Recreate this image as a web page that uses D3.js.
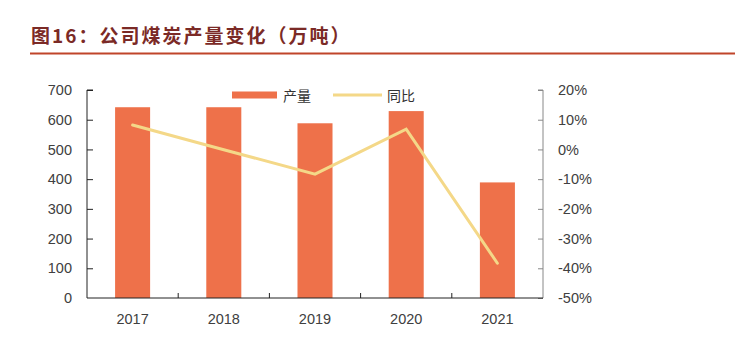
<!DOCTYPE html>
<html>
<head>
<meta charset="utf-8">
<script src="https://cdn.jsdelivr.net/npm/d3@7"></script>
<style>
  body { margin: 0; background: #fff; }
  svg text { font-family: "Liberation Sans", Arial, sans-serif; }
</style>
</head>
<body>
<svg id="chart" width="735" height="354"></svg>
<script>
var years = ['2017', '2018', '2019', '2020', '2021'];
var output = [642, 642, 588, 629, 389];          // 产量 (万吨)
var yoy = [8.2, -0.1, -8.3, 6.8, -38.3];          // 同比 (%)
var leftTicks = [0, 100, 200, 300, 400, 500, 600, 700];
var rightTicks = [-50, -40, -30, -20, -10, 0, 10, 20];

var svg = d3.select('#chart');
var plotLeft = 87, plotRight = 543, plotTop = 90, plotBottom = 298;

// title
svg.append('text')
    .attr('x', 31).attr('y', 43)
    .attr('fill', '#7b2a26')
    .style('font-family', '"Noto Sans CJK SC", sans-serif')
    .style('font-weight', 'bold')
    .style('font-size', '19px')
    .style('letter-spacing', '2px')
    .text('图16：公司煤炭产量变化（万吨）');
svg.append('line')
    .attr('x1', 30).attr('x2', 735).attr('y1', 53.5).attr('y2', 53.5)
    .attr('stroke', '#c0452a').attr('stroke-width', 2);

var x = d3.scaleBand().domain(years).range([plotLeft, plotRight])
    .paddingInner(0.616).paddingOuter(0.308);
var y = d3.scaleLinear().domain([0, 700]).range([plotBottom, plotTop]);
var y2 = d3.scaleLinear().domain([-50, 20]).range([plotBottom, plotTop]);

// bars
svg.selectAll('.bar')
    .data(output)
    .enter().append('rect')
    .attr('class', 'bar')
    .attr('x', function(d, i) { return x(years[i]); })
    .attr('y', function(d) { return y(d); })
    .attr('width', x.bandwidth())
    .attr('height', function(d) { return y(0) - y(d); })
    .attr('fill', '#ee714a');

// left axis
var gl = svg.append('g').attr('transform', 'translate(' + plotLeft + ',0)')
    .call(d3.axisLeft(y).tickValues(leftTicks).tickSize(-6).tickPadding(15));
gl.select('.domain').attr('stroke', '#222').attr('d', 'M6,' + plotTop + 'H0V' + plotBottom);
gl.selectAll('.tick line').attr('stroke', '#222');
gl.selectAll('.tick text').attr('fill', '#404040').style('font-size', '14.5px');
gl.selectAll('.tick').filter(function(d) { return d === 0; }).select('line').remove();

// right axis
var gr = svg.append('g').attr('transform', 'translate(' + plotRight + ',0)')
    .call(d3.axisRight(y2).tickValues(rightTicks).tickSize(-5).tickPadding(20)
        .tickFormat(function(d) { return d + '%'; }));
gr.select('.domain').attr('stroke', '#888').attr('d', 'M-5,' + plotTop + 'H0V' + plotBottom);
gr.selectAll('.tick line').attr('stroke', '#888');
gr.selectAll('.tick text').attr('fill', '#404040').style('font-size', '14.5px')
    .attr('text-anchor', 'start').attr('x', 15);

// bottom axis
var gb = svg.append('g').attr('transform', 'translate(0,' + plotBottom + ')');
gb.append('line').attr('x1', plotLeft).attr('x2', plotRight).attr('stroke', '#222');
gb.selectAll('.sep')
    .data(years.slice(1))
    .enter().append('line')
    .attr('x1', function(d) { return x(d) - x.step() * x.paddingInner() / 2; })
    .attr('x2', function(d) { return x(d) - x.step() * x.paddingInner() / 2; })
    .attr('y1', 0).attr('y2', -5)
    .attr('stroke', '#222');
gb.selectAll('.lbl')
    .data(years)
    .enter().append('text')
    .attr('x', function(d) { return x(d) + x.bandwidth() / 2; })
    .attr('y', 26)
    .attr('text-anchor', 'middle')
    .attr('fill', '#404040')
    .style('font-size', '14.5px')
    .text(function(d) { return d; });

// line
var line = d3.line()
    .x(function(d, i) { return x(years[i]) + x.bandwidth() / 2; })
    .y(function(d) { return y2(d); });
svg.append('path')
    .datum(yoy)
    .attr('d', line)
    .attr('fill', 'none')
    .attr('stroke', '#f4d888')
    .attr('stroke-width', 3)
    .attr('stroke-linecap', 'round');

// legend
var lg = svg.append('g').attr('transform', 'translate(0,95)');
lg.append('rect').attr('x', 232).attr('y', -3.5).attr('width', 45).attr('height', 7).attr('fill', '#ee714a');
lg.append('text').attr('x', 283).attr('y', 5.5).attr('fill', '#333')
    .style('font-family', '"Noto Sans CJK SC", sans-serif').style('font-size', '14px').text('产量');
lg.append('line').attr('x1', 333).attr('x2', 382).attr('y1', 0).attr('y2', 0)
    .attr('stroke', '#f4d888').attr('stroke-width', 3);
lg.append('text').attr('x', 387).attr('y', 5.5).attr('fill', '#333')
    .style('font-family', '"Noto Sans CJK SC", sans-serif').style('font-size', '14px').text('同比');
</script>
</body>
</html>
